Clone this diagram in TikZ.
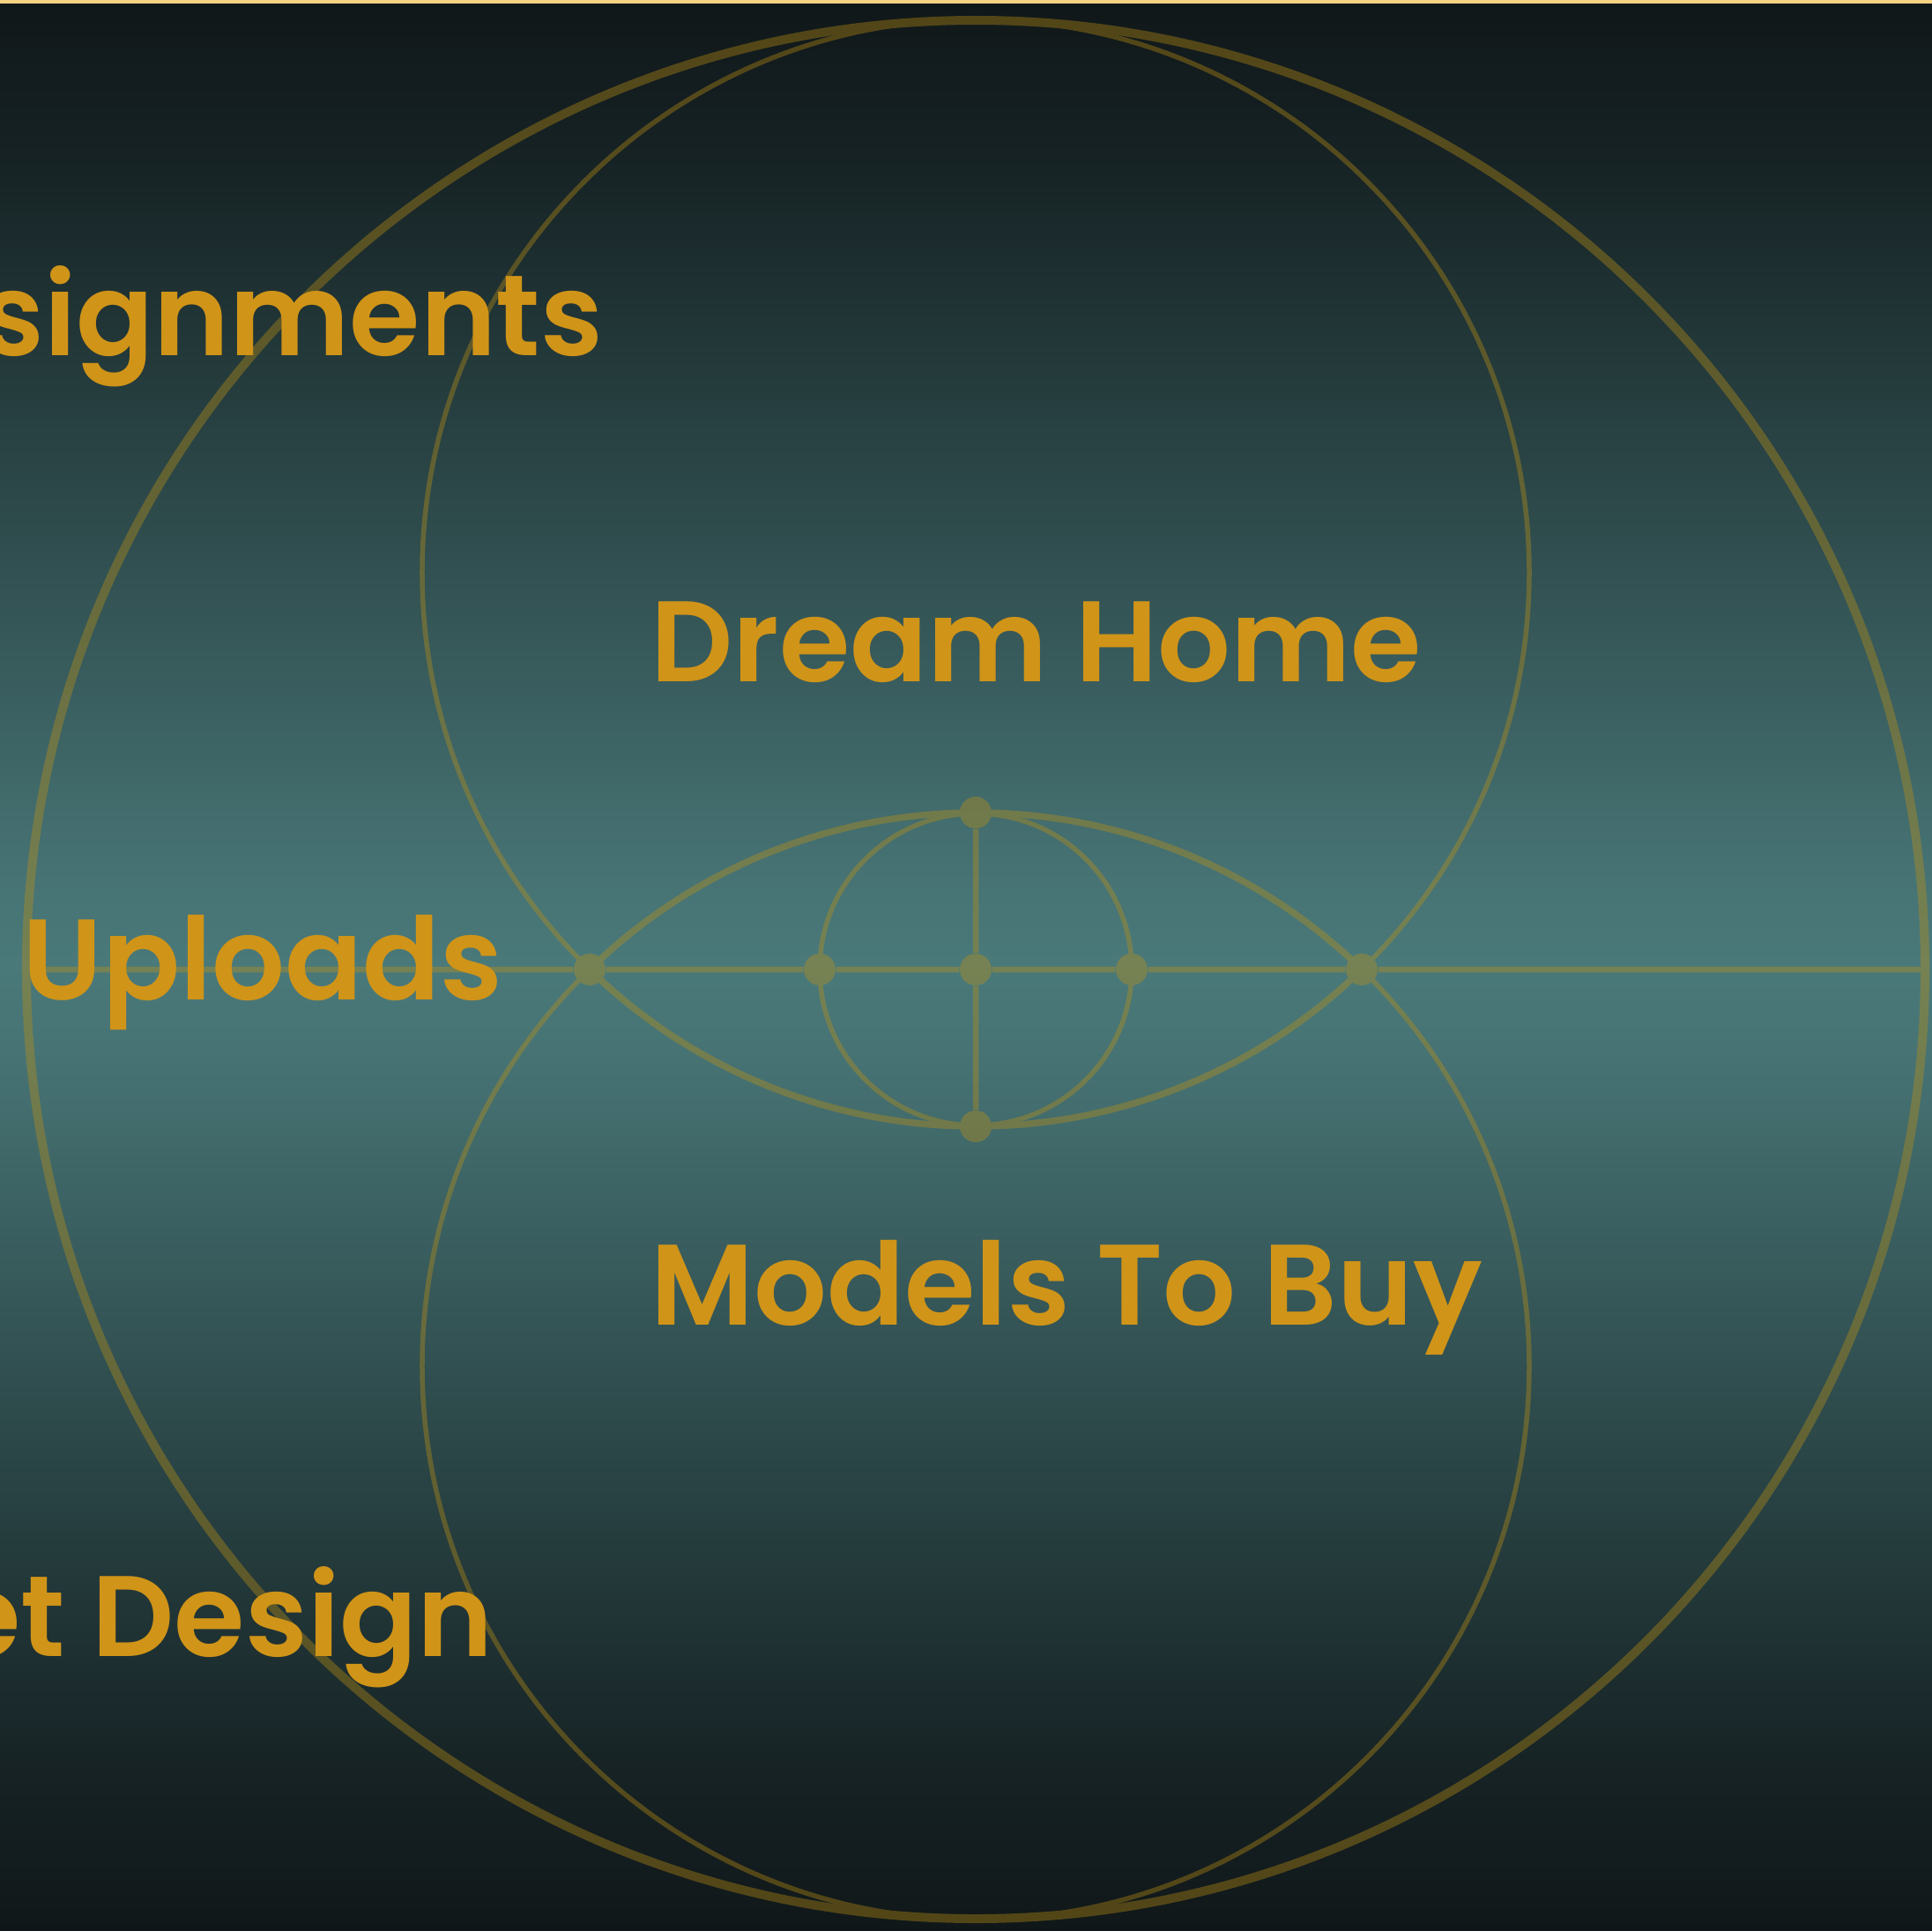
\documentclass[tikz,border=0pt]{standalone}
\usepackage{fontspec}
\usepackage{xcolor}
\usepackage{tikz}
\usetikzlibrary{positioning}

\newfontfamily\labelfont{Poppins SemiBold}
\definecolor{goldtext}{RGB}{208,148,24}
\definecolor{ringgold}{RGB}{190,145,20}
\definecolor{topband}{RGB}{243,210,130}
\pgfdeclareverticalshading{tealfade}{100bp}{
  rgb(0bp)=(0.063,0.090,0.098);
  rgb(25bp)=(0.063,0.090,0.098);
  rgb(29bp)=(0.086,0.133,0.141);
  rgb(35bp)=(0.145,0.235,0.239);
  rgb(41.5bp)=(0.212,0.345,0.349);
  rgb(47.5bp)=(0.275,0.447,0.451);
  rgb(50bp)=(0.290,0.475,0.478);
  rgb(52.5bp)=(0.275,0.447,0.451);
  rgb(58.5bp)=(0.212,0.345,0.349);
  rgb(65bp)=(0.145,0.235,0.239);
  rgb(71bp)=(0.086,0.133,0.141);
  rgb(75bp)=(0.063,0.090,0.098);
  rgb(100bp)=(0.063,0.090,0.098)}

\begin{document}
\begin{tikzpicture}[
  ring/.style={
    draw=ringgold,
    line width=#1
  },
  hub/.style={
    circle,
    fill=ringgold,
    inner sep=0pt,
    minimum size=0.36cm
  },
  word/.style={
    font=\labelfont\fontsize{37}{41}\selectfont,
    text=goldtext,
    inner sep=0pt
  }
]
\useasboundingbox (-11.07,-10.90) rectangle (10.85,11.00);
\clip (-11.07,-10.90) rectangle (10.85,11.00);

% Background fade and top strip
\fill[shading=tealfade] (-11.07,-10.90) rectangle (10.85,11.00);
\fill[topband] (-11.07,10.96) rectangle (10.85,11.00);

% Geometry, drawn as one faint layer
\begin{scope}[transparency group, opacity=0.38]
  \draw[ring=0.1cm] (0,0) circle[radius=10.77];
  \draw[ring=0.055cm] (0,4.5) circle[radius=6.28];
  \draw[ring=0.055cm] (0,-4.5) circle[radius=6.28];
  \draw[ring=0.055cm] (0,0) circle[radius=1.77];

  \coordinate (bl) at (-10.77,0);
  \coordinate (br) at (10.77,0);
  \node[hub] (wl) at (-4.38,0) {};
  \node[hub] (wr) at (4.38,0) {};
  \node[hub] (il) at (-1.77,0) {};
  \node[hub] (ir) at (1.77,0) {};
  \node[hub] (hc) at (0,0) {};
  \node[hub] (nt) at (0,1.78) {};
  \node[hub] (nb) at (0,-1.78) {};

  % Lens outline
  \draw[ring=0.075cm] (-4.38,0) arc[start angle=134.23, end angle=45.77, radius=6.28];
  \draw[ring=0.075cm] (-4.38,0) arc[start angle=225.77, end angle=314.23, radius=6.28];

  % Axes
  \draw[ring=0.065cm] (bl) -- (wl) -- (il) -- (hc) -- (ir) -- (wr) -- (br);
  \draw[ring=0.065cm] (nt) -- (hc) -- (nb);
\end{scope}

% Labels
\node[word, anchor=base east] (asg) at (-4.22,6.97) {signments};
\node[word, anchor=base west] (upl) at (-10.82,-0.34) {Uploads};
\node[word, anchor=base east] (dsg) at (-5.47,-7.79) {et Design};
\node[word, anchor=base west] (home) at (-3.69,3.27) {Dream Home};
\node[word, anchor=base west] (buy) at (-3.69,-4.03) {Models To Buy};
\end{tikzpicture}
\end{document}
